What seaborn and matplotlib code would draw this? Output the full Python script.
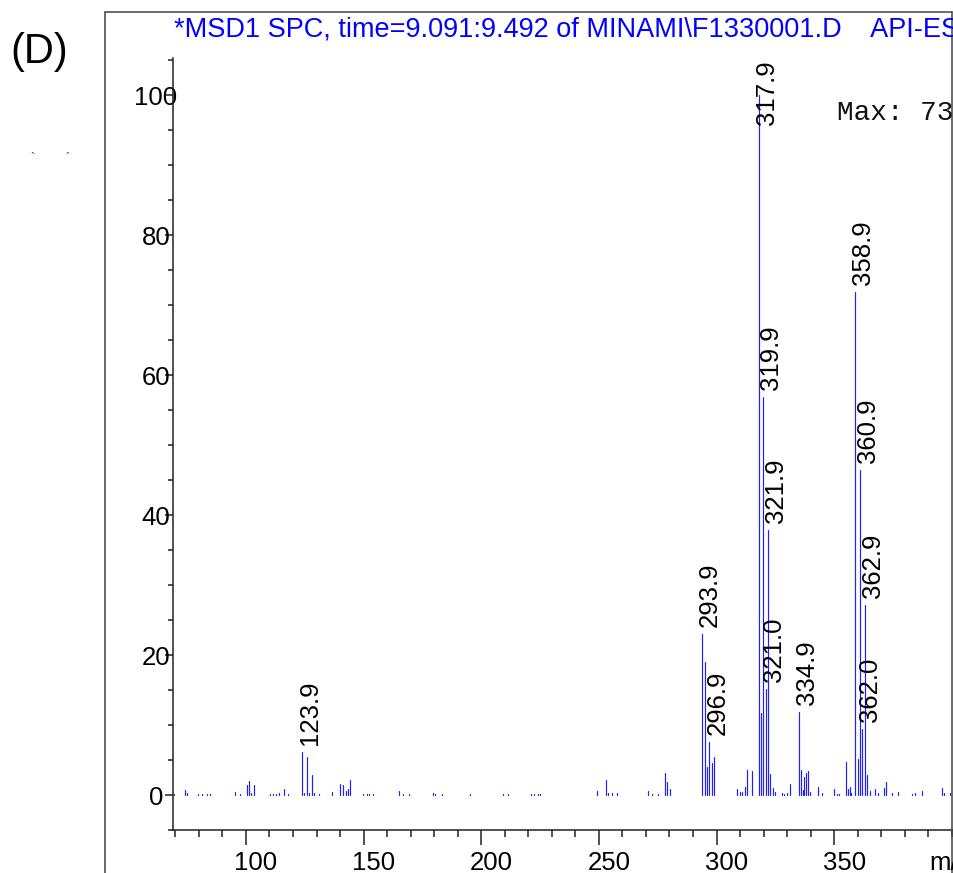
import numpy as np
import pandas as pd
import matplotlib
matplotlib.use("Agg")
import matplotlib.pyplot as plt
import matplotlib.transforms as mtransforms
from matplotlib.lines import Line2D
from matplotlib.ticker import MultipleLocator
import seaborn as sns

# ---------------- data ----------------
mz = [69.4, 74.1, 74.8, 79.6, 81.3, 83.4, 84.7, 95.3, 97.4, 100.3, 101.3, 102.3, 103.3,
      110.2, 111.4, 112.6, 114.0, 116.3, 117.8, 123.9, 124.6, 125.9, 126.6, 127.9, 129.0,
      131.0, 136.4, 140.1, 141.4, 142.4, 143.4, 144.3, 149.6, 151.3, 152.5, 153.8, 165.2,
      166.9, 169.4, 179.3, 180.3, 183.4, 195.2, 209.4, 211.2, 221.1, 222.5, 224.0, 225.0,
      249.3, 253.1, 254.0, 255.5, 257.5, 271.0, 272.7, 275.3, 278.2, 279.0, 280.2,
      293.9, 294.9, 295.9, 296.9, 297.9, 298.9, 308.8, 310.0, 310.7, 312.2, 312.8, 315.2,
      317.9, 318.9, 319.9, 321.0, 321.9, 322.9, 323.9, 324.9, 327.7, 328.8, 329.8, 331.2,
      334.9, 335.9, 336.6, 337.3, 338.0, 339.0, 339.7, 342.9, 345.0, 349.9, 351.0, 352.1,
      355.1, 355.9, 356.7, 357.1, 358.9, 359.9, 360.9, 362.0, 362.9, 363.9, 365.2, 367.3,
      368.4, 371.2, 372.1, 374.4, 377.2, 382.9, 384.3, 387.1, 395.9, 396.8, 399.2]
intensity = [0.2, 0.7, 0.3, 0.2, 0.2, 0.2, 0.2, 0.4, 0.2, 1.4, 2.0, 0.3, 1.4,
             0.2, 0.2, 0.2, 0.3, 0.8, 0.2, 6.1, 0.3, 5.4, 0.3, 2.8, 0.3,
             0.2, 0.5, 1.6, 1.4, 0.6, 0.9, 2.2, 0.2, 0.2, 0.2, 0.1, 0.6,
             0.2, 0.2, 0.3, 0.2, 0.2, 0.2, 0.2, 0.2, 0.2, 0.2, 0.2, 0.2,
             0.6, 2.1, 0.3, 0.3, 0.3, 0.6, 0.2, 0.2, 3.1, 1.8, 0.9,
             23.0, 19.0, 4.0, 7.6, 4.6, 5.4, 0.9, 0.4, 0.4, 1.2, 3.6, 3.5,
             100.0, 11.7, 56.8, 15.2, 37.8, 3.0, 1.0, 0.5, 0.3, 0.2, 0.3, 1.6,
             11.9, 3.6, 0.7, 2.6, 3.2, 3.5, 0.5, 1.2, 0.3, 0.8, 0.2, 0.2,
             4.7, 0.8, 1.1, 0.3, 71.9, 5.1, 46.4, 9.4, 27.1, 2.8, 0.6, 0.9,
             0.3, 1.0, 1.8, 0.3, 0.5, 0.2, 0.3, 0.6, 1.0, 0.3, 0.3]
label_mz = [123.9, 293.9, 296.9, 317.9, 319.9, 321.0, 321.9, 334.9, 358.9, 360.9, 362.0, 362.9]
label_text = ["123.9", "293.9", "296.9", "317.9", "319.9", "321.0", "321.9", "334.9",
              "358.9", "360.9", "362.0", "362.9"]
x_ticks = [100, 150, 200, 250, 300, 350]
y_ticks = [0, 20, 40, 60, 80, 100]
title = "*MSD1 SPC, time=9.091:9.492 of MINAMI\\F1330001.D    API-ES"

# ---------------- figure ----------------
sns.set_theme(style="ticks")
plt.rcParams["font.family"] = ["Liberation Sans", "DejaVu Sans"]

W, H = 954, 873
fig = plt.figure(figsize=(W / 100, H / 100), dpi=100)
fig.patch.set_facecolor("white")

# axes geometry (pixels)
x_left, x_right = 173.0, 975.4
y_bottom, y_top = 830.0, 58.0
ax = fig.add_axes([x_left / W, (H - y_bottom) / H, (x_right - x_left) / W, (y_bottom - y_top) / H])
ax.set_facecolor("white")

n = len(mz)
df = pd.DataFrame({
    "mz": np.repeat(mz, 2),
    "intensity": np.ravel(np.column_stack([np.zeros(n), intensity])),
    "peak": np.repeat(np.arange(n), 2),
})
sns.lineplot(data=df, x="mz", y="intensity", units="peak", estimator=None, sort=False,
             color="#1f1fff", lw=0.85, ax=ax, legend=False)

ax.set_xlim(69, 410)
ax.set_ylim(-5, 105.3)
ax.set_xlabel("")
ax.set_ylabel("")
for s in ["top", "right"]:
    ax.spines[s].set_visible(False)
for s in ["left", "bottom"]:
    ax.spines[s].set_color("#222222")
    ax.spines[s].set_linewidth(1.1)

ax.set_xticks(x_ticks)
ax.set_xticklabels([str(t) for t in x_ticks])
ax.set_yticks(y_ticks)
ax.set_yticklabels([str(t) for t in y_ticks])
ax.xaxis.set_minor_locator(MultipleLocator(10))
ax.yaxis.set_minor_locator(MultipleLocator(5))
ax.tick_params(axis="x", which="major", length=10.8, width=1.1, color="#222222",
               labelsize=18.5, pad=4, labelcolor="black")
ax.tick_params(axis="x", which="minor", length=5, width=1.1, color="#222222")
ax.tick_params(axis="y", which="major", length=5.8, width=1.1, color="#222222",
               labelsize=18.5, pad=6.5, labelcolor="black")
ax.tick_params(axis="y", which="minor", length=3.6, width=1.1, color="#222222")
for lab in ax.get_yticklabels():
    lab.set_horizontalalignment("center")
shift = mtransforms.ScaledTranslation(10 / 100, 0, fig.dpi_scale_trans)
for lab in ax.get_xticklabels():
    lab.set_transform(lab.get_transform() + shift)

# peak labels
lab_off = mtransforms.ScaledTranslation(8 / 100, 0, fig.dpi_scale_trans)
lookup = dict(zip(mz, intensity))
for m, t in zip(label_mz, label_text):
    v = lookup[m]
    ax.text(m, min(v + 1.0, 95.7), t, rotation=90, ha="center", va="bottom",
            fontsize=18.5, color="black", transform=ax.transData + lab_off, clip_on=False)

# texts on figure
fig.text(174 / W, (H - 37) / H, title, color="#0000ff", fontsize=19.5, va="baseline", ha="left")
fig.text(10 / W, (H - 63) / H, "(D)", color="black", fontsize=30, va="baseline", ha="left")
fig.text(837 / W, (H - 120) / H, "Max: 73", color="#111111", fontsize=20,
         family=["Liberation Mono", "DejaVu Sans Mono"], va="baseline", ha="left")
fig.text(929 / W, (H - 870) / H, "m/z", color="black", fontsize=18.5, va="baseline", ha="left")
fig.text(30 / W, (H - 162) / H, "`", color="#333333", fontsize=9, ha="left", va="baseline")
fig.text(66 / W, (H - 162) / H, "\u00b4", color="#333333", fontsize=9, ha="left", va="baseline")

# frame
fc = "#444444"
fig.add_artist(Line2D([105.5 / W, 105.5 / W], [0, (H - 12) / H], color=fc, lw=1.1, transform=fig.transFigure))
fig.add_artist(Line2D([105.5 / W, 952.5 / W], [(H - 12) / H, (H - 12) / H], color=fc, lw=1.1, transform=fig.transFigure))
fig.add_artist(Line2D([952.5 / W, 952.5 / W], [0, (H - 12) / H], color=fc, lw=1.1, transform=fig.transFigure))

fig.savefig("out.png", dpi=100, facecolor="white")
